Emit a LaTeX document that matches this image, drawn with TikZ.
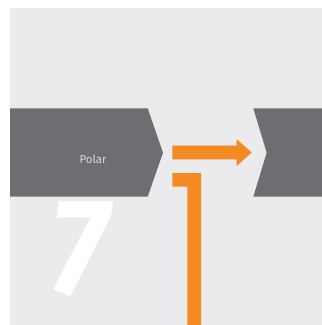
\documentclass[tikz,border=0pt]{standalone}
\usepackage{fontspec}
\setmainfont{Fira Sans}
\usetikzlibrary{positioning}
\definecolor{panelgray}{HTML}{EBEBED}
\definecolor{chevgray}{HTML}{6D6E71}
\definecolor{polarorange}{HTML}{F58A23}
\definecolor{polartext}{HTML}{DADADC}

\begin{document}
\begin{tikzpicture}[x=1bp,y=-1bp]
    \useasboundingbox (0,0) rectangle (322,325);
    \fill[panelgray] (10,7.5) rectangle (322,325);
    % chevrons
    \fill[chevgray] (10,108.3) -- (147.7,108.3) -- (163,152.7) -- (147.7,196.7) -- (10,196.7) -- cycle;
    \fill[chevgray] (253.3,108.3) -- (322,108.3) -- (322,196.7) -- (253.3,196.7) -- (266.7,152.7) -- cycle;
    \node[text=polartext, font=\fontsize{11.5}{12}\selectfont] (polar) at (93,159) {Polar};
    % orange arrow and bracket
    \fill[polarorange] (172.3,145.7) -- (236.7,145.7) -- (236.7,139.3) -- (251.7,152.5) -- (236.7,166) -- (236.7,159.3) -- (172.3,159.3) -- cycle;
    \fill[polarorange] (172.3,173) -- (201,173) -- (201,325) -- (187.3,325) -- (187.3,186.7) -- (172.3,186.7) -- cycle;
    \node[text=white, anchor=base, inner sep=0pt, xscale=0.92, font=\fontsize{138}{138}\selectfont\bfseries\itshape] (seven) at (79,294) {7};
\end{tikzpicture}
\end{document}
